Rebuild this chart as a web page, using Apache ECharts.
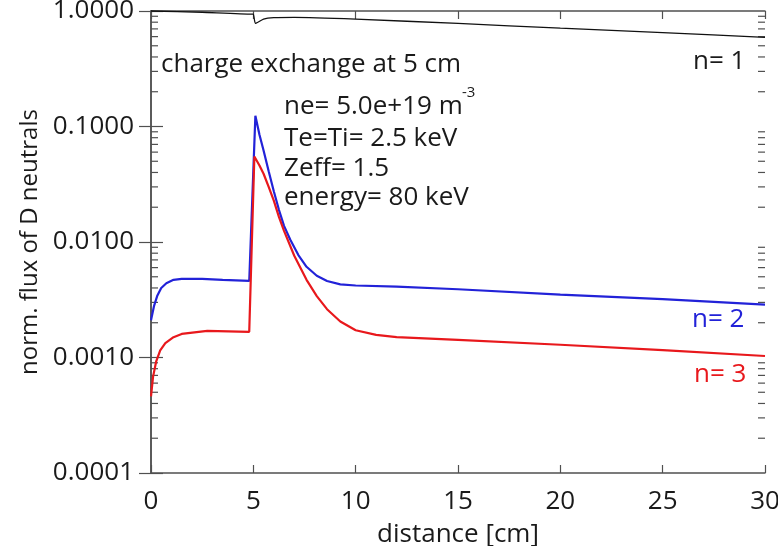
<!DOCTYPE html>
<html><head><meta charset="utf-8">
<script src="https://cdn.jsdelivr.net/npm/echarts@6/dist/echarts.min.js"></script>
<style>html,body{margin:0;padding:0;background:#fff}#c{width:778px;height:546px}</style>
</head><body><div id="c"></div>
<script>
// distance [cm]
const n1X = [0, 2.5, 4.9, 5.0, 5.1, 5.5, 6, 7, 10, 15, 20, 25, 30];
const n1Y = [1.0, 0.975, 0.94, 0.94, 0.78, 0.85, 0.875, 0.88, 0.85, 0.78, 0.71, 0.65, 0.59];
const n2X = [0, 0.15, 0.3, 0.5, 0.75, 1.1, 1.5, 2.5, 3.5, 4.8, 5.1, 5.3, 5.5, 5.75, 6.0, 6.25, 6.5, 6.8, 7.2, 7.6, 8.1, 8.6, 9.25, 10, 12, 15, 20, 25, 30];
const n2Y = [0.0021, 0.0028, 0.0034, 0.004, 0.0044, 0.0047, 0.0048, 0.0048, 0.0047, 0.0046, 0.124, 0.085, 0.062, 0.041, 0.0275, 0.019, 0.0138, 0.0105, 0.0077, 0.0061, 0.0051, 0.0046, 0.0043, 0.0042, 0.0041, 0.0039, 0.0035, 0.0032, 0.00287];
const n3X = [0, 0.1, 0.25, 0.45, 0.7, 1.1, 1.5, 2.75, 4.8, 5.05, 5.3, 5.5, 5.75, 6.0, 6.25, 6.5, 7.0, 7.6, 8.1, 8.6, 9.25, 10, 11, 12, 15, 20, 25, 30];
const n3Y = [0.00046, 0.00068, 0.00092, 0.00115, 0.00133, 0.0015, 0.0016, 0.0017, 0.00167, 0.055, 0.046, 0.039, 0.030, 0.0228, 0.0165, 0.0125, 0.0076, 0.0047, 0.0034, 0.00262, 0.00205, 0.00172, 0.00157, 0.0015, 0.00142, 0.00129, 0.00116, 0.00103];
const yTickLabels = {'1': '1.0000', '0.1': '0.1000', '0.01': '0.0100', '0.001': '0.0010', '0.0001': '0.0001'};
const decades = [0.0001, 0.001, 0.01, 0.1];
const minorMult = [2, 3, 4, 5, 6, 7, 8, 9];

const minorData = [];
decades.forEach(d => minorMult.forEach(m => { minorData.push([0, d * m, 1]); minorData.push([30, d * m, -1]); }));

const FONT = 'Open Sans';
const TXT = '#1a1a1a';
const axisCol = '#505050';
const BLUE = '#2222d8';
const RED = '#e8181c';
const zip = (xs, ys) => xs.map((x, i) => [x, ys[i]]);

const chart = echarts.init(document.getElementById('c'));
chart.setOption({
  animation: false,
  grid: {left: 151, right: 13, top: 11, bottom: 73, containLabel: false, outerBoundsMode: 'none'},
  xAxis: [{
    type: 'value', min: 0, max: 30, interval: 5,
    name: 'distance [cm]', nameLocation: 'middle', nameGap: 49,
    nameTextStyle: {fontFamily: FONT, fontSize: 26, color: TXT},
    axisLine: {show: true, lineStyle: {color: axisCol, width: 1.5}},
    axisTick: {show: true, inside: true, length: 8, lineStyle: {color: axisCol, width: 1.2}},
    axisLabel: {fontFamily: FONT, fontSize: 26, color: TXT, margin: 16},
    splitLine: {show: false}
  }, {
    type: 'value', min: 0, max: 30, interval: 5, position: 'top',
    axisLine: {show: true, lineStyle: {color: axisCol, width: 1.5}},
    axisTick: {show: true, inside: true, length: 8, lineStyle: {color: axisCol, width: 1.2}},
    axisLabel: {show: false}, splitLine: {show: false}
  }],
  yAxis: [{
    type: 'log', logBase: 10, min: 0.0001, max: 1,
    name: 'norm. flux of D neutrals', nameLocation: 'middle', nameGap: 106, nameRotate: 90,
    nameTextStyle: {fontFamily: FONT, fontSize: 24, color: TXT},
    axisLine: {show: true, lineStyle: {color: axisCol, width: 1.5}},
    axisTick: {show: true, inside: true, length: 12, lineStyle: {color: axisCol, width: 1.2}},
    axisLabel: {fontFamily: FONT, fontSize: 26, color: TXT, margin: 17,
      formatter: v => yTickLabels[String(+v.toPrecision(3))] || ''},
    splitLine: {show: false}
  }, {
    type: 'log', logBase: 10, min: 0.0001, max: 1, position: 'right',
    axisLine: {show: true, lineStyle: {color: axisCol, width: 1.5}},
    axisTick: {show: true, inside: true, length: 12, lineStyle: {color: axisCol, width: 1.2}},
    axisLabel: {show: false}, splitLine: {show: false}
  }],
  series: [{
    type: 'custom', clip: false, silent: true,
    data: minorData,
    renderItem: (params, api) => {
      const p = api.coord([api.value(0), api.value(1)]);
      const dir = api.value(2);
      return {type: 'line', shape: {x1: p[0], y1: p[1], x2: p[0] + dir * 7, y2: p[1]},
        style: {stroke: axisCol, lineWidth: 1.2}};
    }
  }, {
    name: 'n= 1', type: 'line', data: zip(n1X, n1Y), showSymbol: false, smooth: 0.15,
    lineStyle: {color: '#111', width: 1.3}, itemStyle: {color: '#111'}, clip: false
  }, {
    name: 'n= 2', type: 'line', data: zip(n2X, n2Y), showSymbol: false,
    lineStyle: {color: BLUE, width: 2.2}, itemStyle: {color: BLUE}
  }, {
    name: 'n= 3', type: 'line', data: zip(n3X, n3Y), showSymbol: false,
    lineStyle: {color: RED, width: 2.2}, itemStyle: {color: RED}
  }],
  graphic: [
    {type: 'text', left: 161, top: 52, style: {text: 'charge exchange at 5 cm', fontFamily: FONT, fontSize: 26, fill: TXT}},
    {type: 'text', left: 284, top: 94, style: {text: 'ne= 5.0e+19 m', fontFamily: FONT, fontSize: 26, fill: TXT, verticalAlign: 'middle'}},
    {type: 'text', left: 462, top: 85, style: {text: '-3', fontFamily: FONT, fontSize: 15, fill: TXT}},
    {type: 'text', left: 284, top: 126, style: {text: 'Te=Ti= 2.5 keV', fontFamily: FONT, fontSize: 26, fill: TXT}},
    {type: 'text', left: 284, top: 156, style: {text: 'Zeff= 1.5', fontFamily: FONT, fontSize: 26, fill: TXT}},
    {type: 'text', left: 284, top: 185, style: {text: 'energy= 80 keV', fontFamily: FONT, fontSize: 26, fill: TXT}},
    {type: 'text', left: 693, top: 49, style: {text: 'n= 1', fontFamily: FONT, fontSize: 26, fill: TXT}},
    {type: 'text', left: 692, top: 307, style: {text: 'n= 2', fontFamily: FONT, fontSize: 26, fill: BLUE}},
    {type: 'text', left: 694, top: 362, style: {text: 'n= 3', fontFamily: FONT, fontSize: 26, fill: RED}}
  ]
});
</script></body></html>
